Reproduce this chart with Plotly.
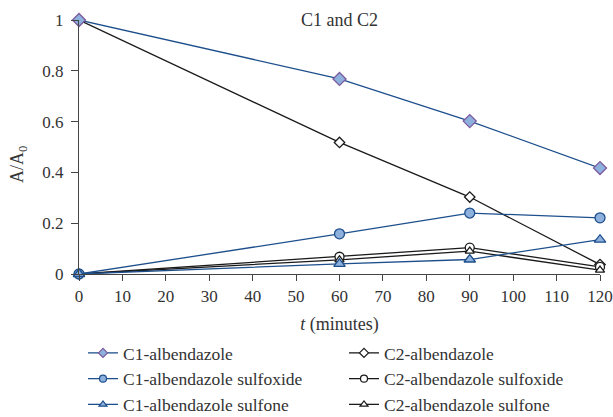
import plotly.graph_objects as go

t = [0, 60, 90, 120]
c1_alb = [1.0, 0.768, 0.602, 0.417]
c2_alb = [1.0, 0.518, 0.303, 0.037]
c1_sulfoxide = [0.0, 0.158, 0.240, 0.221]
c2_sulfoxide = [0.0, 0.068, 0.104, 0.028]
c1_sulfone = [0.0, 0.040, 0.057, 0.135]
c2_sulfone = [0.0, 0.056, 0.090, 0.015]
x_ticks = list(range(0, 121, 10))
y_ticks = [0, 0.2, 0.4, 0.6, 0.8, 1]
y_tick_text = ["0", "0.2", "0.4", "0.6", "0.8", "1"]

BLUE = "#1d4f8c"
FILL = "#8eb0dc"
PURPLE = "#7a5a9e"
BLACK = "#1a1a1a"
FONT = "Liberation Serif"

series = [
    ("C1-albendazole", c1_alb, "diamond", FILL, PURPLE, BLUE, 10, "legend"),
    ("C1-albendazole sulfoxide", c1_sulfoxide, "circle", FILL, BLUE, BLUE, 10, "legend"),
    ("C1-albendazole sulfone", c1_sulfone, "triangle-up", FILL, BLUE, BLUE, 10, "legend"),
    ("C2-albendazole", c2_alb, "diamond", "white", BLACK, BLACK, 8, "legend2"),
    ("C2-albendazole sulfoxide", c2_sulfoxide, "circle", "white", BLACK, BLACK, 9, "legend2"),
    ("C2-albendazole sulfone", c2_sulfone, "triangle-up", "white", BLACK, BLACK, 8, "legend2"),
]

fig = go.Figure()
# draw C2 first then C1 on top
for name, vals, sym, fill, edge, lc, sz, lg in series[3:] + series[:3]:
    fig.add_trace(go.Scatter(
        x=t, y=vals, mode="lines+markers", name=name, showlegend=False,
        line=dict(color=lc, width=1.3),
        marker=dict(symbol=sym, size=sz, color=fill, line=dict(color=edge, width=1.3)),
        cliponaxis=False,
    ))
# legend entries (smaller markers)
for name, vals, sym, fill, edge, lc, sz, lg in series:
    fig.add_trace(go.Scatter(
        x=[None], y=[None], mode="lines+markers", name=name, legend=lg,
        legendgroup=name,
        line=dict(color=lc, width=1.3),
        marker=dict(symbol=sym, size=7, color=fill, line=dict(color=edge, width=1.2)),
    ))

axis_common = dict(
    showline=True, linecolor="#444", linewidth=1.2, ticks="outside",
    tickcolor="#444", tickwidth=1.2, showgrid=False, zeroline=False,
    tickfont=dict(family=FONT, size=17, color="#333"),
)

W, H = 613, 417
L, T = 79, 20
R = W - 600
B = H - 274
plot_w = W - L - R
plot_h = H - T - B
LEG_FONT = dict(family=FONT, size=17.5, color="#333")

fig.update_layout(
    width=W, height=H,
    margin=dict(l=L, r=R, t=T, b=B, autoexpand=False),
    paper_bgcolor="white", plot_bgcolor="white",
    font=dict(family=FONT, size=18, color="#333"),
    xaxis=dict(range=[0, 120], tickvals=x_ticks, ticklen=6,
               title=dict(text="<i>t</i> (minutes)", font=dict(family=FONT, size=18, color="#333"), standoff=12),
               **axis_common),
    yaxis=dict(range=[0, 1], tickvals=y_ticks, ticktext=y_tick_text, ticklen=7,
               ticklabelstandoff=4, **axis_common),
    legend=dict(x=(83 - L) / plot_w, y=(274 - 335) / plot_h, xanchor="left", yanchor="top",
                font=LEG_FONT, tracegroupgap=0, bgcolor="rgba(0,0,0,0)", borderwidth=0),
    legend2=dict(x=(344 - L) / plot_w, y=(274 - 335) / plot_h, xanchor="left", yanchor="top",
                 font=LEG_FONT, tracegroupgap=0, bgcolor="rgba(0,0,0,0)", borderwidth=0),
    annotations=[
        dict(text="C1 and C2", x=0.5, y=1.0, xref="paper", yref="paper",
             xanchor="center", yanchor="middle", showarrow=False,
             font=dict(family=FONT, size=18, color="#333")),
        dict(text="A/A<sub>0</sub>", x=(18 - L) / plot_w, y=(274 - 165) / plot_h,
             xref="paper", yref="paper", xanchor="center", yanchor="middle",
             showarrow=False, textangle=-90,
             font=dict(family=FONT, size=18, color="#333")),
    ],
)

fig.write_html(
    "out.html",
    config={"displayModeBar": False},
    post_script="document.body.style.margin='0';document.body.style.overflow='hidden';",
)
